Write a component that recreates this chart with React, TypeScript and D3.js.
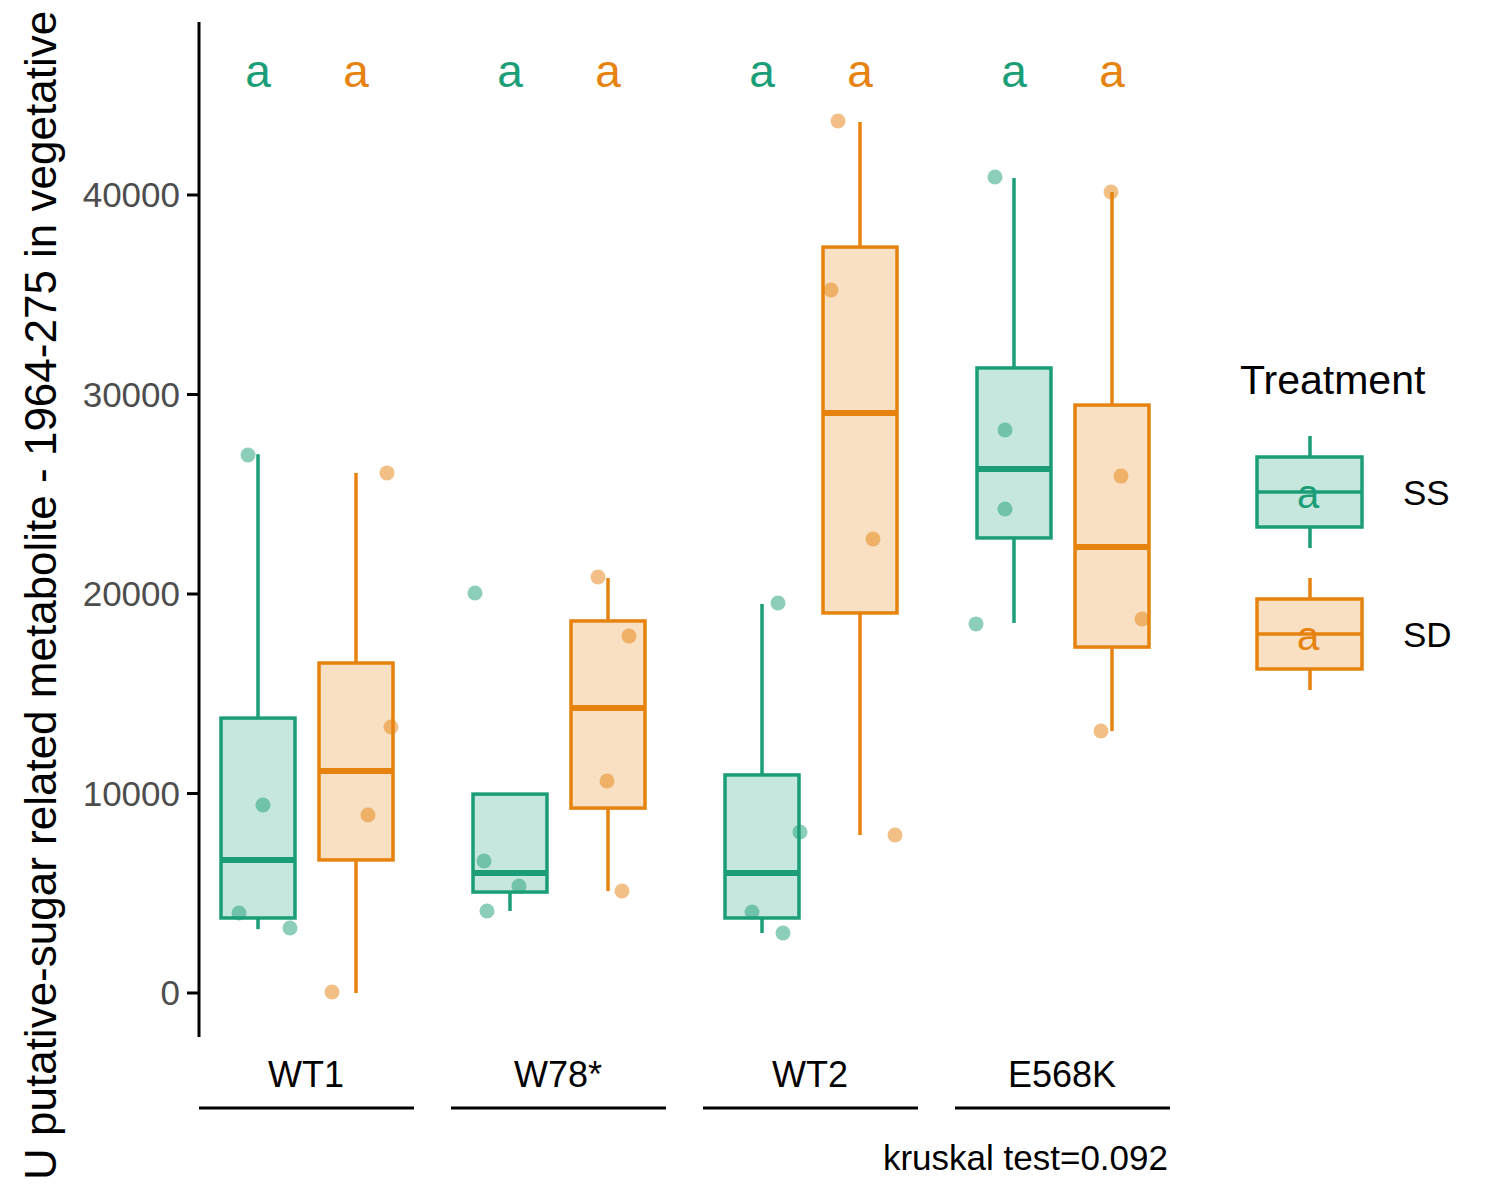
import * as d3 from "d3";

const genotypes = ["WT1", "W78*", "WT2", "E568K"];
const treatments = ["SS", "SD"];
const colors = ["#1b9e77", "#e6820e"];
// [genotype][treatment] = [lowWhisker, q1, median, q3, highWhisker]
const stats = [
  [[3200, 3760, 6670, 13780, 27000], [0, 6670, 11130, 16540, 26070]],
  [[4110, 5060, 6020, 9970, 9970], [5110, 9270, 14290, 18650, 20800]],
  [[3010, 3760, 6020, 10930, 19500], [7920, 19050, 29070, 37390, 43660]],
  [[18550, 22810, 26270, 31330, 40850], [13130, 17340, 22360, 29470, 40150]],
];
// points: [genotype][treatment] = [[jitterOffset, value]]
const points = [
  [[[-10, 26970], [5, 9420], [-19, 4010], [32, 3260]], [[31, 26070], [35, 13330], [12, 8920], [-24, 50]]],
  [[[-35, 20050], [-26, 6620], [9, 5360], [-23, 4110]], [[-10, 20850], [21, 17890], [-1, 10630], [14, 5110]]],
  [[[16, 19550], [38, 8070], [-10, 4060], [21, 3010]], [[-22, 43710], [-29, 35240], [13, 22760], [35, 7920]]],
  [[[-19, 40900], [-9, 28220], [-9, 24260], [-38, 18500]], [[-1, 40150], [9, 25910], [30, 18750], [-11, 13130]]],
];
const yTicks = [0, 10000, 20000, 30000, 40000];

export default function App() {
  const y = d3.scaleLinear().domain([0, 40000]).range([993, 195]);
  const x = d3.scaleBand().domain(genotypes).range([199, 1207]).paddingInner(0);
  const sub = d3.scaleBand().domain(treatments).range([22, 194]).paddingInner(0.245);
  const font = "Liberation Sans, Arial, sans-serif";
  const bw = sub.bandwidth();

  return (
    <svg width={1500} height={1200} style={{ display: "block", margin: -8 }} fontFamily={font}>
      <rect width={1500} height={1200} fill="white" />
      <line x1={199} x2={199} y1={22} y2={1037} stroke="black" strokeWidth={3} />
      {yTicks.map((t) => (
        <g key={t}>
          <line x1={187} x2={199} y1={y(t)} y2={y(t)} stroke="black" strokeWidth={3} />
          <text x={180} y={y(t) + 12} textAnchor="end" fontSize={35} fill="#4d4d4d">{t}</text>
        </g>
      ))}
      <text transform="translate(56,1180) rotate(-90)" fontSize={44}>
        U putative-sugar related metabolite - 1964-275 in vegetative tissue
      </text>
      {genotypes.map((g, gi) => {
        const gx = x(g)!;
        return (
          <g key={g}>
            {treatments.map((t, ti) => {
              const [lo, q1, md, q3, hi] = stats[gi][ti];
              const c = colors[ti];
              const bx = gx + sub(t)!;
              const cx = bx + bw / 2;
              return (
                <g key={t}>
                  <line x1={cx} x2={cx} y1={y(hi)} y2={y(q3)} stroke={c} strokeWidth={3.5} />
                  <line x1={cx} x2={cx} y1={y(q1)} y2={y(lo)} stroke={c} strokeWidth={3.5} />
                  <rect x={bx} width={bw} y={y(q3)} height={y(q1) - y(q3)} fill={c} fillOpacity={0.25} stroke={c} strokeWidth={3.5} />
                  <line x1={bx} x2={bx + bw} y1={y(md)} y2={y(md)} stroke={c} strokeWidth={6} />
                  {points[gi][ti].map(([dx, v], k) => (
                    <circle key={k} cx={cx + dx} cy={y(v)} r={7.5} fill={c} fillOpacity={0.5} />
                  ))}
                  <text x={cx} y={87} textAnchor="middle" fontSize={46} fill={c}>a</text>
                </g>
              );
            })}
            <text x={gx + 107} y={1087} textAnchor="middle" fontSize={36}>{g}</text>
            <line x1={gx} x2={gx + 215} y1={1108} y2={1108} stroke="black" strokeWidth={3} />
          </g>
        );
      })}
      <text x={1168} y={1170} textAnchor="end" fontSize={35}>kruskal test=0.092</text>
      <text x={1240} y={394} fontSize={41}>Treatment</text>
      {treatments.map((t, ti) => {
        const c = colors[ti];
        const cy = 492 + ti * 142;
        return (
          <g key={t}>
            <line x1={1310} x2={1310} y1={cy - 56} y2={cy + 56} stroke={c} strokeWidth={3.5} />
            <rect x={1257} y={cy - 35} width={105} height={70} fill="white" />
            <rect x={1257} y={cy - 35} width={105} height={70} fill={c} fillOpacity={0.25} stroke={c} strokeWidth={3.5} />
            <line x1={1257} x2={1362} y1={cy} y2={cy} stroke={c} strokeWidth={3.5} />
            <text x={1308} y={cy + 16} textAnchor="middle" fontSize={40} fill={c}>a</text>
            <text x={1403} y={cy + 13} fontSize={35}>{t}</text>
          </g>
        );
      })}
    </svg>
  );
}
